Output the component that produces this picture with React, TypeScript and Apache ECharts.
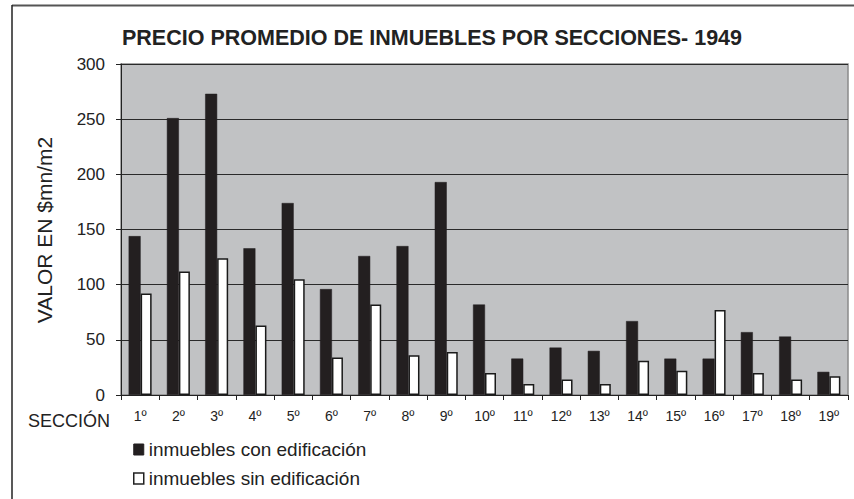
import React, { useEffect, useRef } from "react";
import * as echarts from "echarts";

const categories = ["1º","2º","3º","4º","5º","6º","7º","8º","9º","10º","11º","12º","13º","14º","15º","16º","17º","18º","19º"];
const conEdificacion = [144, 251, 273, 133, 174, 96, 126, 135, 193, 82, 33, 43, 40, 67, 33, 33, 57, 53, 21];
const sinEdificacion = [92, 112, 124, 63, 105, 34, 82, 36, 39, 20, 10, 14, 10, 31, 22, 77, 20, 14, 17];
const yTicks = { min: 0, max: 300, interval: 50 };

const FONT = "'Liberation Sans', Arial, Helvetica, sans-serif";

export default function App() {
  const ref = useRef<HTMLDivElement>(null);
  useEffect(() => {
    if (!ref.current) return;
    const chart = echarts.init(ref.current, null, { renderer: "svg" });
    chart.setOption({
      animation: false,
      backgroundColor: "#fff",
      textStyle: { fontFamily: FONT },
      grid: {
        left: 121, right: 6, top: 64, bottom: 104,
        show: true, backgroundColor: "#c1c2c4", borderColor: "#8a8a8a", borderWidth: 1.5,
      },
      legend: {
        orient: "vertical", left: 128, top: 435, itemWidth: 10, itemHeight: 11, itemGap: 10,
        icon: "rect",
        textStyle: { fontSize: 19, color: "#222", fontFamily: FONT },
        data: [
          { name: "inmuebles con edificación", itemStyle: { color: "#231f20", borderColor: "#231f20", borderWidth: 1 } },
          { name: "inmuebles sin edificación", itemStyle: { color: "#fff", borderColor: "#222", borderWidth: 1.5 } },
        ],
      },
      xAxis: {
        type: "category", data: categories,
        axisLine: { lineStyle: { color: "#222", width: 1 } },
        axisTick: { show: true, alignWithLabel: false, length: 5, lineStyle: { color: "#222" } },
        axisLabel: { fontSize: 14, color: "#222", margin: 14, fontFamily: FONT },
      },
      yAxis: {
        type: "value", min: yTicks.min, max: yTicks.max, interval: yTicks.interval,
        axisLine: { show: true, lineStyle: { color: "#222", width: 1 } },
        axisTick: { show: true, length: 5, lineStyle: { color: "#222" } },
        axisLabel: { fontSize: 17, color: "#222", margin: 16, fontFamily: FONT },
        splitLine: { show: true, lineStyle: { color: "#2a2a2a", width: 1 } },
      },
      series: [
        {
          name: "inmuebles con edificación", type: "bar", data: conEdificacion,
          barWidth: 12, barGap: "0%",
          itemStyle: { color: "#231f20", borderColor: "#231f20", borderWidth: 0.5 },
        },
        {
          name: "inmuebles sin edificación", type: "bar", data: sinEdificacion,
          barWidth: 11,
          itemStyle: { color: "#ffffff", borderColor: "#1a1a1a", borderWidth: 1.5 },
        },
      ],
      graphic: [
        { type: "line", shape: { x1: 12, y1: 5.5, x2: 854, y2: 5.5 }, style: { stroke: "#555", lineWidth: 2 } },
        { type: "line", shape: { x1: 12, y1: 5, x2: 12, y2: 499 }, style: { stroke: "#222", lineWidth: 1.5 } },
        {
          type: "text", x: 432, y: 38,
          style: { text: "PRECIO PROMEDIO DE INMUEBLES POR SECCIONES- 1949", fontSize: 21.5, fontWeight: "bold",
            fontFamily: FONT, fill: "#222", align: "center", verticalAlign: "middle" },
        },
        {
          type: "text", x: 44, y: 230, rotation: Math.PI / 2,
          style: { text: "VALOR EN $mn/m2", fontSize: 21, fontFamily: FONT, fill: "#222",
            align: "center", verticalAlign: "middle" },
        },
        {
          type: "text", x: 28, y: 421,
          style: { text: "SECCIÓN", fontSize: 18, fontFamily: FONT, fill: "#222",
            align: "left", verticalAlign: "middle" },
        },
      ],
    });
    return () => chart.dispose();
  }, []);
  return <div ref={ref} style={{ position: "fixed", left: 0, top: 0, width: 854, height: 499 }} />;
}
